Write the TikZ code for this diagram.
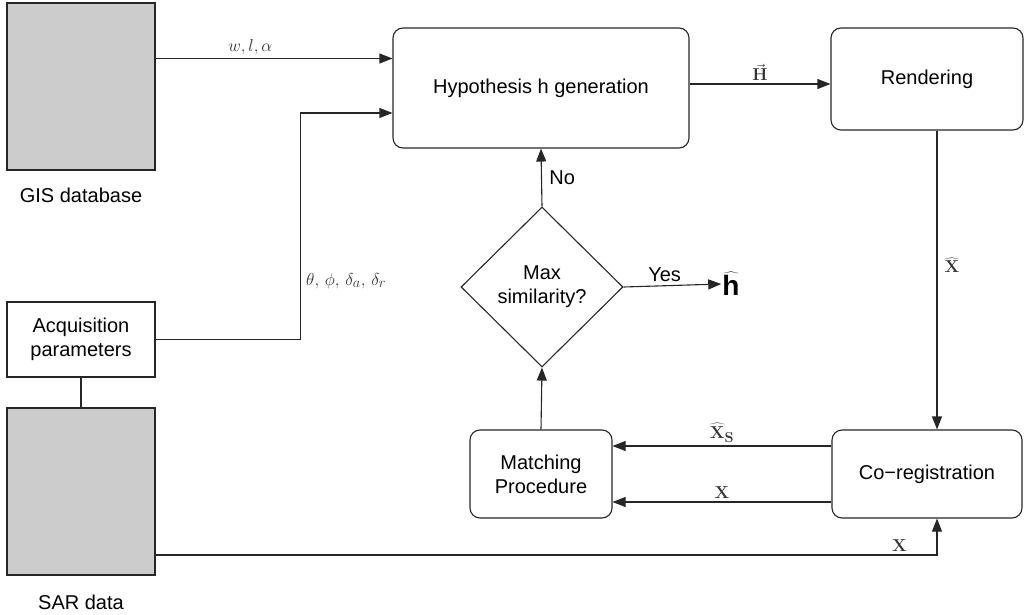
\documentclass[tikz,border=0pt]{standalone}
\usepackage[no-math]{fontspec}
\setmainfont{Liberation Sans}
\usetikzlibrary{arrows.meta,shapes.geometric}
\definecolor{gisgray}{HTML}{CCCCCC}
\begin{document}
\begin{tikzpicture}[x=1pt,y=-1pt,
  every node/.style={font=\fontsize{20}{24}\selectfont},
  ln/.style={line width=1.1pt, draw=black!85},
  arr/.style={ln, -{Triangle[length=13pt,width=10pt]}},
  sq/.style={ln, rectangle, inner sep=0pt, align=center},
  rbx/.style={ln, rectangle, rounded corners=10pt, inner sep=0pt, align=center},
  mlbl/.style={font=\fontsize{19}{22}\selectfont, text=black!80, inner sep=3pt}]
\useasboundingbox (0,0) rectangle (1026,615);
% left column
\node[sq, fill=gisgray, minimum width=148pt, minimum height=167pt] (gis) at (81,86.5) {};
\node (gislbl) at (81,195) {GIS database};
\node[sq, minimum width=148pt, minimum height=75pt] (acq) at (81,339.5) {Acquisition\\parameters};
\node[sq, fill=gisgray, minimum width=148pt, minimum height=167pt] (sar) at (81,491.5) {};
\node (sarlbl) at (81,602) {SAR data};
% main boxes
\node[rbx, minimum width=296pt, minimum height=120pt] (hyp) at (541,88) {Hypothesis h generation};
\node[rbx, minimum width=192pt, minimum height=102pt] (ren) at (927,79) {Rendering};
\node[ln, diamond, aspect=1, minimum width=162pt, minimum height=160pt, inner sep=0pt, align=center] (dia) at (542,287) {Max\\similarity?};
\node[rbx, minimum width=142pt, minimum height=88pt] (mat) at (541,474) {Matching\\Procedure};
\node[rbx, minimum width=190pt, minimum height=88pt] (cor) at (927,474) {Co−registration};
\node[inner sep=1pt, font=\fontsize{28}{30}\selectfont] (hh) at (731,284) {$\widehat{\hbox{\bfseries h}}$};
% connectors
\draw[arr] ([yshift=28pt]gis.east) -- ([yshift=28pt]gis.east -| hyp.west)
  node[mlbl, pos=0.4, above] {$w,l,\alpha$};
\coordinate (hin2) at ([yshift=-25pt]hyp.west);
\draw[arr] (acq.east) -- ++(145,0) |- (hin2);
\node[mlbl, anchor=west] (thlbl) at (303,281) {$\theta,\,\phi,\,\delta_a,\,\delta_r$};
\draw[arr] ([yshift=4pt]hyp.east) -- ([yshift=4pt]hyp.east -| ren.west)
  node[mlbl, midway, above] {$\vec{\mathbf{H}}$};
\draw[arr] ([xshift=10pt]ren.south) -- ([xshift=10pt]ren.south |- cor.north)
  node[mlbl, pos=0.45, right, xshift=4pt] {$\widehat{\mathbf{X}}$};
\draw[arr] ([yshift=28pt]cor.west) -- ([yshift=28pt]cor.west -| mat.east)
  node[mlbl, midway, above] {$\widehat{\mathbf{X}}_{\mathbf{S}}$};
\draw[arr] ([yshift=-28pt]cor.west) -- ([yshift=-28pt]cor.west -| mat.east)
  node[mlbl, midway, above] {$\mathbf{X}$};
\draw[arr] ([yshift=-63.5pt]sar.east) -| ([xshift=10pt]cor.south)
  node[mlbl, pos=0.476, above] {$\mathbf{X}$};
\draw[ln] (acq.south) -- (sar.north);
\draw[arr] (mat.north) -- (dia.south);
\draw[arr] (dia.north) -- (hyp.south) node[midway, right, xshift=4pt] {No};
\draw[arr] (dia.east) -- (hh.west) node[pos=0.42, above] {Yes};
\end{tikzpicture}
\end{document}
